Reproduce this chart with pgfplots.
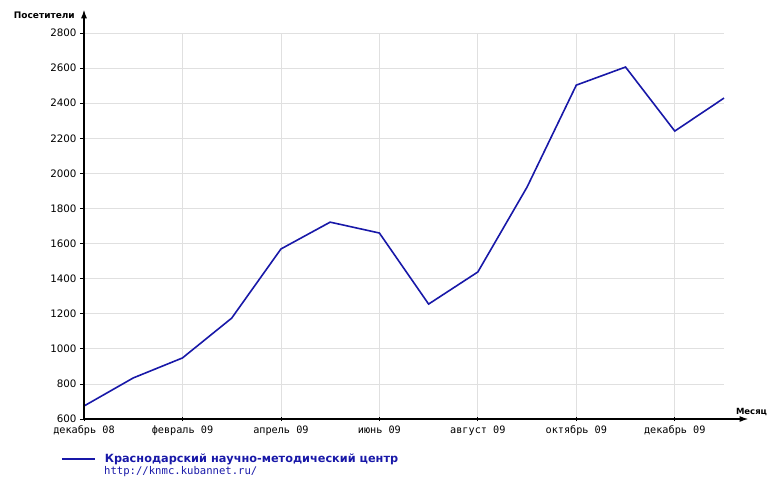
\documentclass[border=0pt]{standalone}
\usepackage{pgfplots}
\pgfplotsset{compat=1.18}
\usepackage{fontspec}
\setmainfont{DejaVu Sans}
\newfontfamily\monof{DejaVu Sans Mono}
\usetikzlibrary{arrows.meta}
\definecolor{lineblue}{RGB}{24,24,168}
\definecolor{gridgray}{RGB}{224,224,224}
\begin{document}
\begin{tikzpicture}
\begin{axis}[
  scale only axis,
  width=640pt, height=386pt,
  xmin=0, xmax=13, ymin=600, ymax=2800,
  axis lines*=left,
  axis line style={draw=none},
  clip=false,
  xtick={0,2,4,6,8,10,12},
  xticklabels={декабрь 08,февраль 09,апрель 09,июнь 09,август 09,октябрь 09,декабрь 09},
  ytick={600,800,...,2800},
  x tick label style={font=\monof\fontsize{10.2}{12}\selectfont, yshift=-1pt},
  y tick label style={font=\fontsize{10.3}{12}\selectfont},
  /pgf/number format/assume math mode=true,
  /pgf/number format/1000 sep={},
  grid=major,
  major grid style={gridgray, line width=0.8pt},
  major tick length=4pt,
  x tick style={black, line width=0.8pt},
  y tick style={black, line width=0.8pt},
  xtick align=center,
  ytick align=outside,
  legend style={draw=none, fill=none, at={(0,0)}, anchor=north west, xshift=-26pt, yshift=-31pt,
    font=\bfseries\fontsize{11.3}{13}\selectfont, text=lineblue},
  legend image code/.code={\draw[lineblue, line width=1.6pt] (0pt,0pt) -- (33pt,0pt);},
]
\addplot[lineblue, line width=1.6pt] coordinates {
(0,674) (1,834) (2,948) (3,1175) (4,1569) (5,1722) (6,1660) (7,1255)
(8,1438) (9,1922) (10,2503) (11,2606) (12,2241) (13,2429)};
\addlegendentry{\hspace*{7pt}Краснодарский научно-методический центр}
\draw[black, line width=1.6pt, -{Latex[length=9pt,width=6pt]}] (axis cs:0,600) -- (axis cs:13.5,600);
\draw[black, line width=1.6pt, -{Latex[length=9pt,width=6pt]}] (axis cs:0,600) -- (axis cs:0,2935);
\node[anchor=base east, font=\bfseries\fontsize{9}{11}\selectfont, inner sep=0pt] at (axis cs:0,2880) [xshift=-9pt] {Посетители};
\node[anchor=base west, font=\bfseries\fontsize{8.5}{11}\selectfont, inner sep=0pt] at (axis cs:13.24,600) [yshift=5pt] {Месяц};
\node[anchor=base west, font=\monof\fontsize{10.6}{12}\selectfont, text=lineblue, inner sep=0pt] at (axis description cs:0,0) [xshift=20pt, yshift=-55pt] {http://knmc.kubannet.ru/};
\end{axis}
\pgfresetboundingbox
\path[use as bounding box] (-84pt,-58pt) rectangle (683pt,419pt);
\end{tikzpicture}
\end{document}
